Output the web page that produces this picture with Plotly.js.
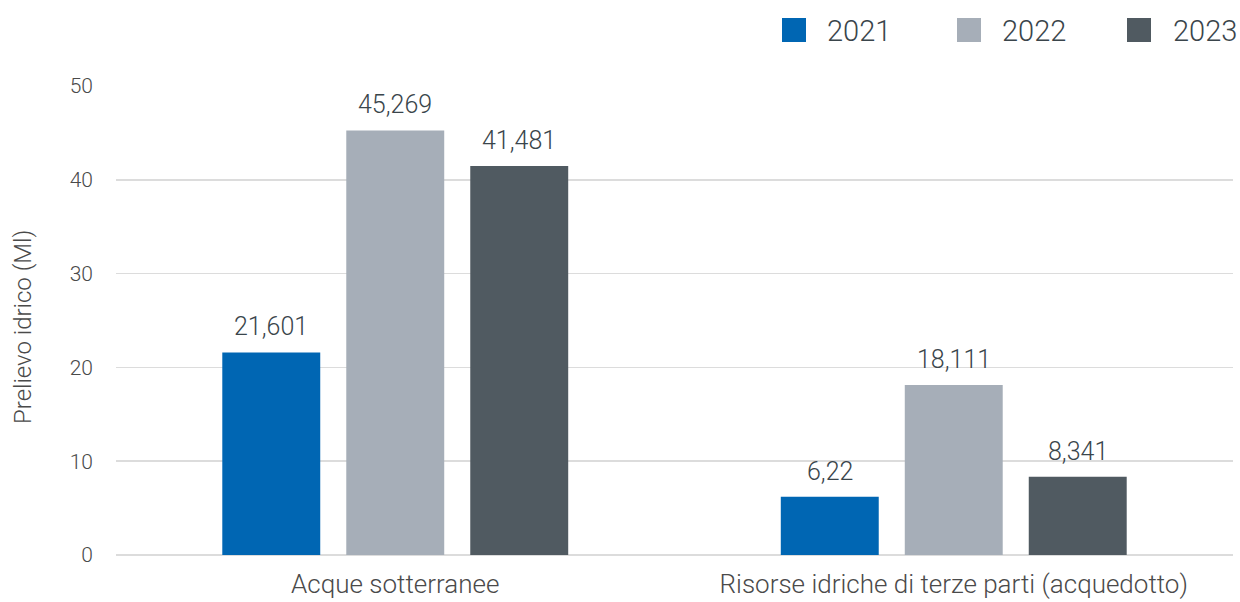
<!DOCTYPE html>
<html>
<head>
<meta charset="utf-8">
<script src="https://cdn.plot.ly/plotly-3.0.1.min.js"></script>
<style>
html,body{margin:0;padding:0;background:#fff;}
#chart{width:1240px;height:602px;}
</style>
</head>
<body>
<div id="chart"></div>
<script>
const categories = ["Acque sotterranee", "Risorse idriche di terze parti (acquedotto)"];
const seriesNames = ["2021", "2022", "2023"];
const values2021 = [21.601, 6.22];
const values2022 = [45.269, 18.111];
const values2023 = [41.481, 8.341];
const seriesValues = [values2021, values2022, values2023];
const yTitle = "Prelievo idrico (Ml)";
const colors = ["#0066b3", "#a6aeb8", "#505a61"];

const W = 1240, H = 602;
const M = {l: 116, r: 7, t: 86, b: 47};
const plotW = W - M.l - M.r, plotH = H - M.t - M.b;
const px2x = p => (p - M.l) / plotW;
const px2y = p => (H - M.b - p) / plotH;

const traces = seriesNames.map((n, i) => ({
  type: "bar",
  name: n,
  x: categories,
  y: seriesValues[i],
  marker: {color: colors[i]},
  showlegend: false,
  hoverinfo: "none"
}));

// data labels via annotations (offset per series within group)
const pitch = 124;
const annotations = [];
seriesValues.forEach((vals, i) => {
  vals.forEach((v, j) => {
    annotations.push({
      x: categories[j], y: v, xref: "x", yref: "y",
      text: v.toLocaleString("it-IT", {maximumFractionDigits: 3}),
      showarrow: false, xshift: (i - 1) * pitch, yshift: 9,
      yanchor: "bottom",
      font: {family: "Roboto", size: 25, weight: 300, color: "#3a454b"}
    });
  });
});

// legend
const legendSquares = [782, 957, 1127];
const legendTexts = [827, 1002, 1173];
const shapes = [];
seriesNames.forEach((n, i) => {
  shapes.push({
    type: "rect", xref: "paper", yref: "paper",
    x0: px2x(legendSquares[i]), x1: px2x(legendSquares[i] + 24),
    y0: px2y(42), y1: px2y(18),
    fillcolor: colors[i], line: {width: 0}
  });
  annotations.push({
    xref: "paper", yref: "paper",
    x: px2x(legendTexts[i] - 2), y: px2y(31),
    xanchor: "left", yanchor: "middle",
    text: n, showarrow: false,
    font: {family: "Roboto", size: 29, weight: 300, color: "#3a454b"}
  });
});

// y-axis title
annotations.push({
  xref: "paper", yref: "paper",
  x: px2x(23), y: px2y(327),
  xanchor: "center", yanchor: "middle",
  text: yTitle, textangle: -90, showarrow: false,
  font: {family: "Roboto", size: 24, weight: 300, color: "#4a4a4a"}
});

const layout = {
  width: W, height: H,
  margin: M,
  paper_bgcolor: "#fff", plot_bgcolor: "#fff",
  barmode: "group",
  bargap: 0.334,
  bargroupgap: 0.21,
  showlegend: false,
  font: {family: "Roboto", color: "#595959"},
  xaxis: {
    type: "category",
    showgrid: false, showline: false, zeroline: false,
    ticks: "", ticklabelstandoff: 11,
    tickfont: {family: "Roboto", size: 26, weight: 300, color: "#4a4a4a"}
  },
  yaxis: {
    range: [0, 50], dtick: 10,
    showgrid: true, gridcolor: "#dcdcdc", gridwidth: 1.5,
    zeroline: true, zerolinecolor: "#dcdcdc", zerolinewidth: 2,
    showline: false, ticks: "",
    ticklabelstandoff: 22,
    tickfont: {family: "Roboto", size: 21, weight: 300, color: "#4a4a4a"}
  },
  shapes: shapes,
  annotations: annotations
};

Plotly.newPlot("chart", traces, layout, {displayModeBar: false, staticPlot: true});
</script>
</body>
</html>
